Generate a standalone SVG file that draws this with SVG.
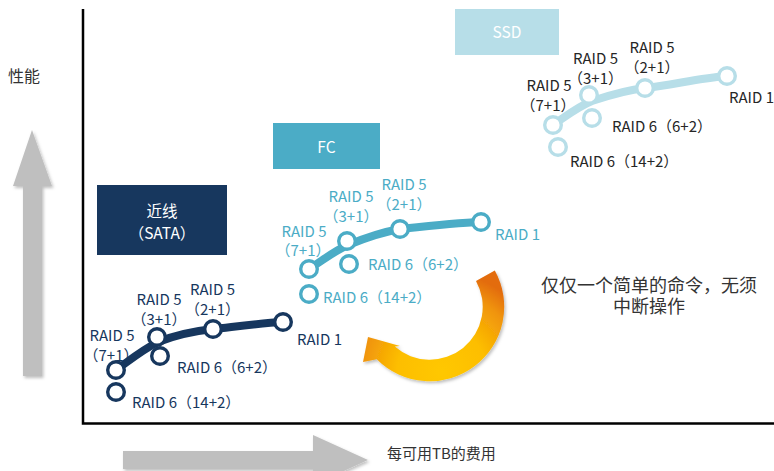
<svg xmlns="http://www.w3.org/2000/svg" width="774" height="471" viewBox="0 0 774 471">
<defs>
<radialGradient id="og" gradientUnits="userSpaceOnUse" cx="442" cy="372" r="100">
<stop offset="0" stop-color="#FFC800"/>
<stop offset="0.45" stop-color="#FDBE00"/>
<stop offset="0.8" stop-color="#F0940B"/>
<stop offset="1" stop-color="#E36C09"/>
</radialGradient>
<filter id="sh" x="-20%" y="-20%" width="140%" height="140%">
<feDropShadow dx="1.5" dy="2" stdDeviation="1.5" flood-color="#000" flood-opacity="0.25"/>
</filter>
</defs>
<style>
.lbl{font-family:"Noto Sans CJK SC","Liberation Sans",sans-serif;font-size:15px}
.sata{fill:#17375E}
.fc{fill:#4BACC6}
.ssd{fill:#262626}
.mid{text-anchor:middle}
.box{font-family:"Noto Sans CJK SC","Liberation Sans",sans-serif;font-size:15.5px;fill:#FFFFFF;text-anchor:middle}
.ax{font-family:"Noto Sans CJK SC","Liberation Sans",sans-serif;fill:#333333}
.curve{fill:none;stroke-width:8;stroke-linecap:round}
.node{fill:#FFFFFF;stroke-width:3.4}
</style>
<rect width="774" height="471" fill="#FFFFFF"/>

<!-- axes frame -->
<g id="frame" fill="none" stroke="#000" stroke-width="2.5">
<path d="M83,9 V423.5 H774"/>
</g>

<!-- gray axis arrows -->
<g id="axis-arrows" fill="#BFBFBF" filter="url(#sh)">
<polygon points="32,130 52,186 42,186 42,376 23,376 23,186 13,186"/>
<polygon points="123,451 313,451 313,435 368,460 313,485 313,469 123,469"/>
</g>
<text class="ax" x="8" y="82" font-size="16">性能</text>
<text class="ax" x="387" y="459" font-size="15">每可用TB的费用</text>

<!-- category boxes -->
<g id="box-sata">
<rect x="97" y="185" width="130" height="70" fill="#17375E"/>
<text class="box" x="162" y="217">近线</text>
<text class="box" x="162" y="239">（SATA）</text>
</g>
<g id="box-fc">
<rect x="273" y="123" width="107" height="46" fill="#4BACC6"/>
<text class="box" x="326.5" y="153">FC</text>
</g>
<g id="box-ssd">
<rect x="455" y="9" width="104" height="46" fill="#B7DEE8"/>
<text class="box" x="507" y="38">SSD</text>
</g>

<!-- connectors (curves) -->
<g id="connectors">
<path class="curve" stroke="#17375E" d="M116,370 C130,360 142,350 158,342 C178,334 195,331 213,329 C240,326 262,323 283,322"/>
<path class="curve" stroke="#4BACC6" d="M309,269 C322,261 334,251 348,245 C365,238 383,232 400,229 C428,226 455,223 481,222"/>
<path class="curve" stroke="#B7DEE8" d="M553,125 C565,117 577,107 592,101 C610,95 627,90 645,88 C672,85 700,78 727,76"/>
</g>

<!-- SATA nodes -->
<g id="sata-nodes" stroke="#17375E">
<circle class="node" cx="116" cy="392" r="8.3"/>
<circle class="node" cx="116" cy="370" r="8.3"/>
<circle class="node" cx="160" cy="356" r="8.3"/>
<circle class="node" cx="157" cy="337" r="8.3"/>
<circle class="node" cx="213" cy="329" r="8.3"/>
<circle class="node" cx="283" cy="322" r="8.3"/>
</g>
<g id="sata-labels" class="lbl sata">
<text class="mid" x="112" y="341">RAID 5</text>
<text class="mid" x="111" y="361">（7+1）</text>
<text class="mid" x="159" y="305">RAID 5</text>
<text class="mid" x="159" y="325">（3+1）</text>
<text class="mid" x="212.5" y="295">RAID 5</text>
<text class="mid" x="212.5" y="315">（2+1）</text>
<text x="297" y="345">RAID 1</text>
<text x="177" y="373">RAID 6（6+2）</text>
<text x="132" y="408">RAID 6（14+2）</text>
</g>

<!-- FC nodes -->
<g id="fc-nodes" stroke="#4BACC6">
<circle class="node" cx="309" cy="294" r="8.3"/>
<circle class="node" cx="309" cy="269" r="8.3"/>
<circle class="node" cx="349" cy="264" r="8.3"/>
<circle class="node" cx="347" cy="241" r="8.3"/>
<circle class="node" cx="400" cy="229" r="8.3"/>
<circle class="node" cx="481" cy="222" r="8.3"/>
</g>
<g id="fc-labels" class="lbl fc">
<text class="mid" x="304" y="237">RAID 5</text>
<text class="mid" x="303" y="256">（7+1）</text>
<text class="mid" x="351" y="202">RAID 5</text>
<text class="mid" x="351" y="222">（3+1）</text>
<text class="mid" x="404" y="190">RAID 5</text>
<text class="mid" x="404" y="210">（2+1）</text>
<text x="495" y="240">RAID 1</text>
<text x="368" y="270">RAID 6（6+2）</text>
<text x="323" y="303">RAID 6（14+2）</text>
</g>

<!-- SSD nodes -->
<g id="ssd-nodes" stroke="#B7DEE8">
<circle class="node" cx="558" cy="147" r="8.3"/>
<circle class="node" cx="553" cy="125" r="8.3"/>
<circle class="node" cx="592" cy="118" r="8.3"/>
<circle class="node" cx="589" cy="95" r="8.3"/>
<circle class="node" cx="645" cy="88" r="8.3"/>
<circle class="node" cx="727" cy="76" r="8.3"/>
</g>
<g id="ssd-labels" class="lbl ssd">
<text class="mid" x="549" y="91">RAID 5</text>
<text class="mid" x="548" y="111">（7+1）</text>
<text class="mid" x="595.5" y="64">RAID 5</text>
<text class="mid" x="595.5" y="84">（3+1）</text>
<text class="mid" x="652" y="53">RAID 5</text>
<text class="mid" x="652" y="73">（2+1）</text>
<text x="729" y="103">RAID 1</text>
<text x="612" y="132">RAID 6（6+2）</text>
<text x="570" y="167">RAID 6（14+2）</text>
</g>

<!-- orange curved arrow -->
<g id="cycle-arrow" filter="url(#sh)">
<path fill="url(#og)" d="M494.8,270.5 A74.5,74.5 0 0 1 376.8,359.2 L363,362 L368,337 L400,346 L394.8,346.6 A53,53 0 0 0 476,280.9 Z"/>
</g>

<g id="note">
<text class="ax" font-size="18" text-anchor="middle" x="649" y="292">仅仅一个简单的命令，无须<tspan x="649" dy="21">中断操作</tspan></text>
</g>
</svg>
